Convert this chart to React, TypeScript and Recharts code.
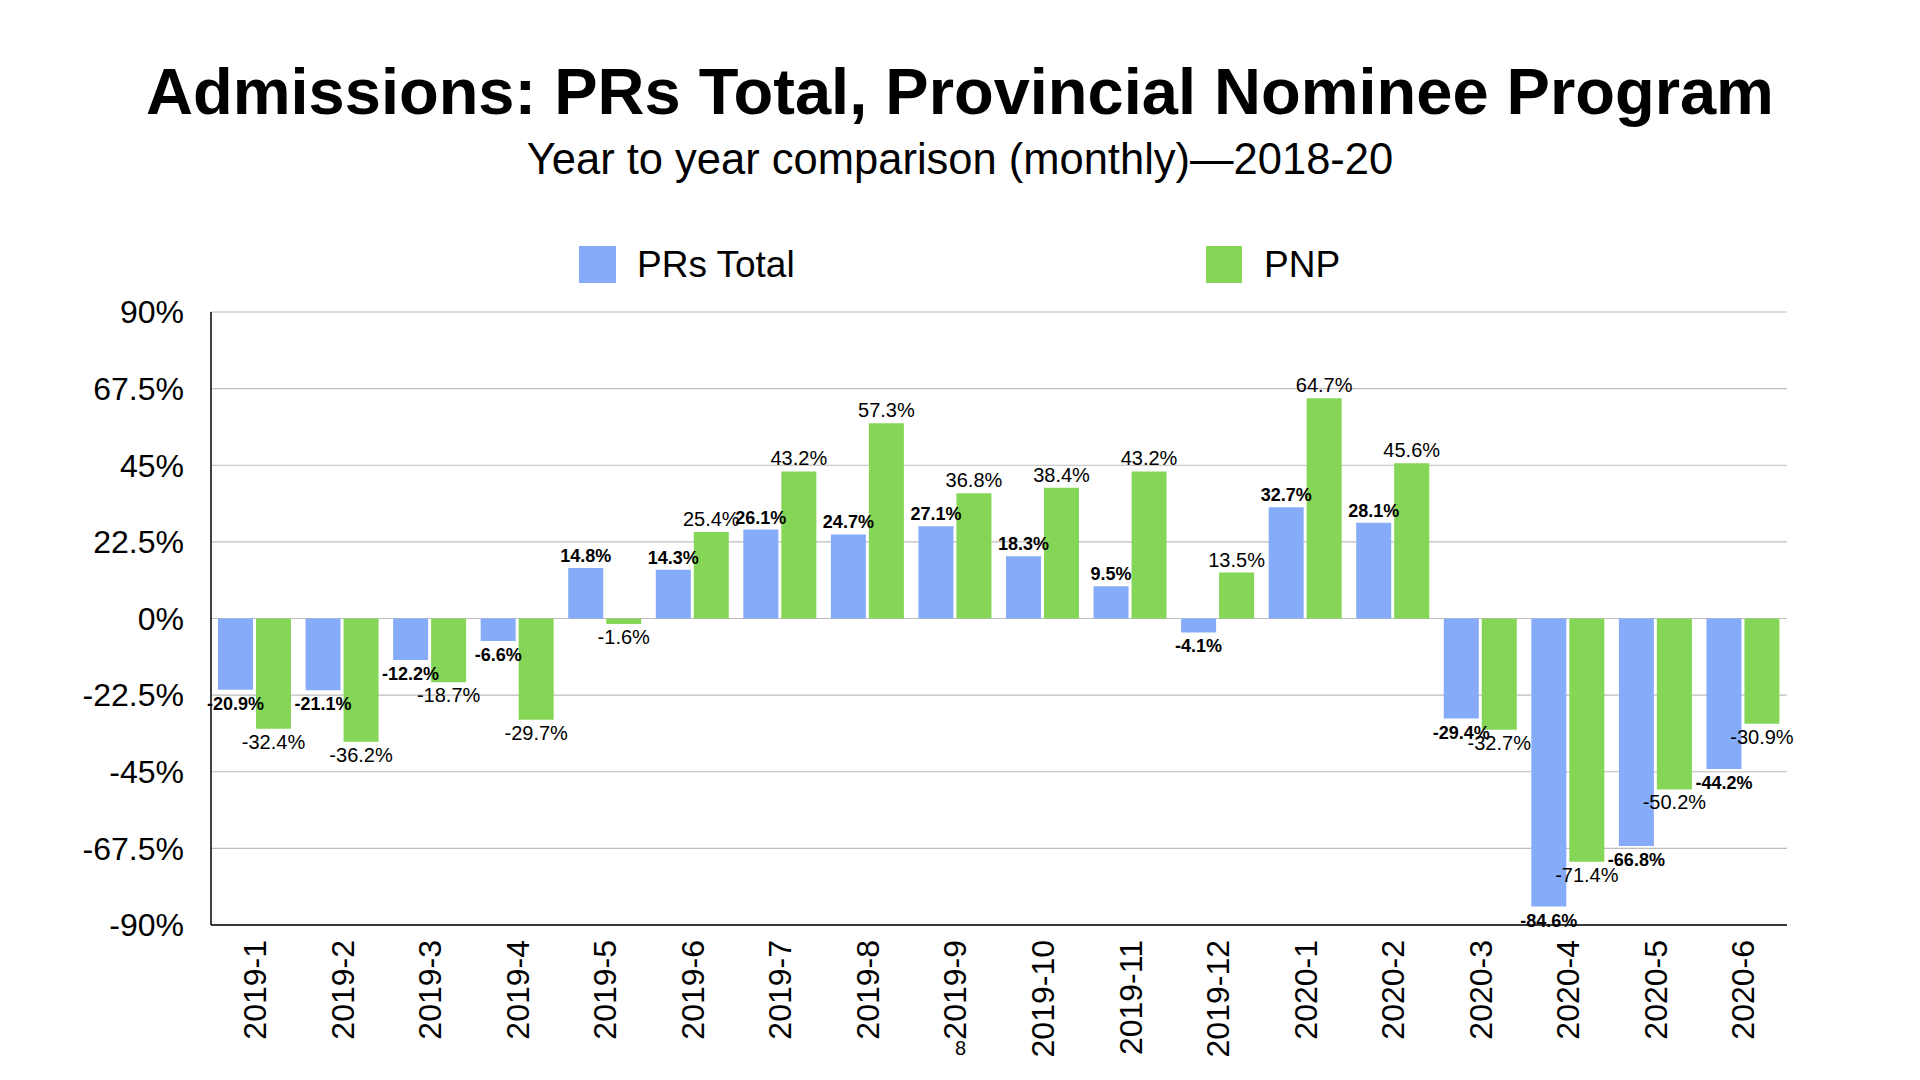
import React from "react";
import {
  BarChart,
  Bar,
  XAxis,
  YAxis,
  CartesianGrid,
  LabelList,
} from "recharts";

const months = [
  "2019-1", "2019-2", "2019-3", "2019-4", "2019-5", "2019-6",
  "2019-7", "2019-8", "2019-9", "2019-10", "2019-11", "2019-12",
  "2020-1", "2020-2", "2020-3", "2020-4", "2020-5", "2020-6",
];

const prsTotal = [
  -20.9, -21.1, -12.2, -6.6, 14.8, 14.3, 26.1, 24.7, 27.1,
  18.3, 9.5, -4.1, 32.7, 28.1, -29.4, -84.6, -66.8, -44.2,
];

const pnp = [
  -32.4, -36.2, -18.7, -29.7, -1.6, 25.4, 43.2, 57.3, 36.8,
  38.4, 43.2, 13.5, 64.7, 45.6, -32.7, -71.4, -50.2, -30.9,
];

const yTicks = [-90, -67.5, -45, -22.5, 0, 22.5, 45, 67.5, 90];

const BLUE = "#86abf8";
const GREEN = "#85d656";
const FONT = "'Liberation Sans', Arial, Helvetica, sans-serif";

const data = months.map((m, i) => ({
  month: m,
  prs: prsTotal[i],
  pnp: pnp[i],
}));

const makeLabel = (bold: boolean, size: number) => (p: any) => {
  const vb = p.viewBox || p;
  const x = Number(vb.x);
  const y = Number(vb.y);
  const w = Number(vb.width);
  const h = Number(vb.height);
  const v = Number(p.value);
  const top = Math.min(y, y + h);
  const bottom = Math.max(y, y + h);
  const ty = v >= 0 ? top - 6 : bottom + 20;
  return (
    <text
      x={x + w / 2}
      y={ty}
      textAnchor="middle"
      fontFamily={FONT}
      fontSize={size}
      fontWeight={bold ? "bold" : "normal"}
      fill="#000"
    >
      {v.toFixed(1) + "%"}
    </text>
  );
};

const MonthTick = (props: any) => {
  const { x, y, payload } = props;
  return (
    <text
      x={x}
      y={y + 7}
      transform={`rotate(-90, ${x}, ${y + 7})`}
      textAnchor="end"
      dy="0.35em"
      fontFamily={FONT}
      fontSize={32}
      fill="#000"
    >
      {payload.value}
    </text>
  );
};

export default function App() {
  return (
    <div
      style={{
        position: "relative",
        width: 1920,
        height: 1080,
        background: "#fff",
        fontFamily: FONT,
      }}
    >
      <style>{"body{margin:0}"}</style>
      <div
        style={{
          position: "absolute",
          top: 54,
          left: 0,
          width: 1920,
          textAlign: "center",
          fontSize: 65,
          fontWeight: "bold",
          lineHeight: "76px",
        }}
      >
        Admissions: PRs Total, Provincial Nominee Program
      </div>
      <div
        style={{
          position: "absolute",
          top: 134,
          left: 0,
          width: 1920,
          textAlign: "center",
          fontSize: 43.5,
          lineHeight: "50px",
        }}
      >
        Year to year comparison (monthly)—2018-20
      </div>

      <div style={{ position: "absolute", top: 246, left: 579, display: "flex", alignItems: "center" }}>
        <span style={{ width: 37, height: 37, background: BLUE, display: "inline-block" }} />
        <span style={{ fontSize: 37, marginLeft: 21, lineHeight: "37px" }}>PRs Total</span>
      </div>
      <div style={{ position: "absolute", top: 246, left: 1206, display: "flex", alignItems: "center" }}>
        <span style={{ width: 36, height: 37, background: GREEN, display: "inline-block" }} />
        <span style={{ fontSize: 37, marginLeft: 22, lineHeight: "37px" }}>PNP</span>
      </div>

      <div style={{ position: "absolute", top: 0, left: 0 }}>
        <BarChart
          width={1920}
          height={1080}
          data={data}
          margin={{ top: 312, right: 133, bottom: 0, left: 0 }}
          barCategoryGap={7}
          barGap={3}
        >
          <CartesianGrid vertical={false} stroke="#bdbdbd" strokeWidth={1.2} />
          <XAxis
            dataKey="month"
            height={155}
            interval={0}
            tickLine={false}
            axisLine={{ stroke: "#000", strokeWidth: 1.5 }}
            tick={<MonthTick />}
          />
          <YAxis
            width={211}
            domain={[-90, 90]}
            ticks={yTicks}
            interval={0}
            tickLine={false}
            tickSize={0}
            tickMargin={27}
            axisLine={{ stroke: "#000", strokeWidth: 1.5 }}
            tickFormatter={(v: number) => `${v}%`}
            tick={{ fontSize: 32, fill: "#000", fontFamily: FONT }}
          />
          <Bar dataKey="prs" fill={BLUE} isAnimationActive={false}>
            <LabelList dataKey="prs" content={makeLabel(true, 18)} />
          </Bar>
          <Bar dataKey="pnp" fill={GREEN} isAnimationActive={false}>
            <LabelList dataKey="pnp" content={makeLabel(false, 20)} />
          </Bar>
        </BarChart>
      </div>

      <div
        style={{
          position: "absolute",
          left: 955,
          top: 1038,
          fontSize: 20,
          lineHeight: "20px",
        }}
      >
        8
      </div>
    </div>
  );
}
